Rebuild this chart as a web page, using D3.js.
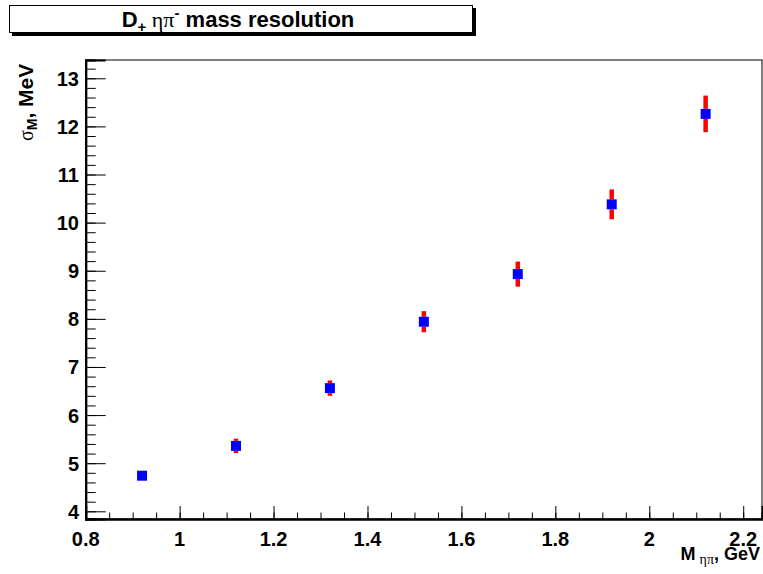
<!DOCTYPE html>
<html><head><meta charset="utf-8">
<script src="https://cdn.jsdelivr.net/npm/d3@7"></script>
<style>body{margin:0;background:#fff}svg{display:block}</style>
</head><body>
<script>
const massX = [0.92, 1.12, 1.32, 1.52, 1.72, 1.92, 2.12];
const sigmaY = [4.74, 5.36, 6.56, 7.94, 8.93, 10.38, 12.26];
const sigmaErr = [0.05, 0.15, 0.16, 0.22, 0.26, 0.31, 0.38];
const xTicks = [0.8, 1, 1.2, 1.4, 1.6, 1.8, 2, 2.2];
const yTicks = [4, 5, 6, 7, 8, 9, 10, 11, 12, 13];

const W = 763, H = 574;
const m = {l: 85.7, r: 762, t: 60, b: 519};
const svg = d3.select("body").append("svg").attr("width", W).attr("height", H);
svg.append("rect").attr("width", W).attr("height", H).attr("fill", "#fff");

const x = d3.scaleLinear().domain([0.8, 2.24]).range([m.l, m.r]);
const y = d3.scaleLinear().domain([3.84, 13.38]).range([m.b, m.t]);

const font = "'Liberation Sans', Arial, Helvetica, sans-serif";
const serif = "'Liberation Serif', 'Times New Roman', serif";

// frame
svg.append("rect").attr("x", m.l).attr("y", m.t).attr("width", m.r - m.l).attr("height", m.b - m.t)
  .attr("fill", "none").attr("stroke", "#000").attr("stroke-width", 1);

// X axis
const xMinor = d3.range(0.8, 2.2401, 0.05).map(v => +v.toFixed(2));
const gxm = svg.append("g").attr("transform", `translate(0,${m.b})`)
  .call(d3.axisTop(x).tickValues(xMinor).tickSize(6.5).tickFormat(""));
const gx = svg.append("g").attr("transform", `translate(0,${m.b})`)
  .call(d3.axisTop(x).tickValues(xTicks).tickSize(13).tickFormat(""));
[gxm, gx].forEach(g => { g.select(".domain").attr("stroke-width", 2); g.selectAll(".tick line").attr("stroke", "#000").attr("stroke-width", 1); });
svg.append("g").selectAll("text").data(xTicks).join("text")
  .attr("x", d => x(d)).attr("y", 546).attr("text-anchor", "middle")
  .attr("font-family", font).attr("font-weight", "bold").attr("font-size", 20)
  .text(d => d3.format("")(d));

// Y axis
const yMinor = d3.range(4, 13.381, 0.2).map(v => +v.toFixed(1));
const gym = svg.append("g").attr("transform", `translate(${m.l},0)`)
  .call(d3.axisRight(y).tickValues(yMinor).tickSize(10).tickFormat(""));
const gy = svg.append("g").attr("transform", `translate(${m.l},0)`)
  .call(d3.axisRight(y).tickValues(yTicks).tickSize(20).tickFormat(""));
[gym, gy].forEach(g => { g.select(".domain").attr("stroke-width", 2); g.selectAll(".tick line").attr("stroke", "#000").attr("stroke-width", 1); });
svg.append("g").selectAll("text").data(yTicks).join("text")
  .attr("x", 79).attr("y", d => y(d) + 7.5).attr("text-anchor", "end")
  .attr("font-family", font).attr("font-weight", "bold").attr("font-size", 20)
  .text(d => d);

// error bars
const pts = massX.map((v, i) => ({x: v, y: sigmaY[i], e: sigmaErr[i]}));
const half = 5;
const eb = svg.append("g").attr("stroke", "#ff0000").attr("stroke-width", 4.5);
pts.forEach(p => {
  const cy = y(p.y), top = y(p.y + p.e), bot = y(p.y - p.e);
  if (cy - top > half) eb.append("line").attr("x1", x(p.x)).attr("x2", x(p.x)).attr("y1", top).attr("y2", cy - half);
  if (bot - cy > half) eb.append("line").attr("x1", x(p.x)).attr("x2", x(p.x)).attr("y1", cy + half).attr("y2", bot);
});
// markers
svg.append("g").selectAll("rect").data(pts).join("rect")
  .attr("x", d => x(d.x) - half).attr("y", d => y(d.y) - half)
  .attr("width", 2 * half).attr("height", 2 * half).attr("fill", "#0000ff");

// title box
svg.append("rect").attr("x", 12).attr("y", 8).attr("width", 464).attr("height", 28).attr("fill", "#000");
svg.append("rect").attr("x", 9.5).attr("y", 5.5).attr("width", 463).attr("height", 27).attr("fill", "#fff").attr("stroke", "#000").attr("stroke-width", 1);
const t = svg.append("text").attr("x", 238).attr("y", 26.5).attr("text-anchor", "middle")
  .attr("font-family", font).attr("font-weight", "bold").attr("font-size", 22);
t.append("tspan").text("D");
t.append("tspan").attr("font-size", 15).attr("dy", 5).text("+");
t.append("tspan").attr("dy", -5).attr("font-family", serif).attr("font-weight", "normal").text(" ηπ");
t.append("tspan").attr("font-size", 15).attr("dy", -9).text("-");
t.append("tspan").attr("dy", 9).text(" mass resolution");

// y title
const yt = svg.append("text").attr("transform", "translate(33,141) rotate(-90)")
  .attr("text-anchor", "start").attr("font-family", font).attr("font-weight", "bold").attr("font-size", 21);
yt.append("tspan").attr("font-family", serif).attr("font-weight", "normal").attr("font-size", 20).text("σ");
yt.append("tspan").attr("font-size", 14).attr("dy", 4).text("M");
yt.append("tspan").attr("dy", -4).text(", MeV");

// x title
const xt = svg.append("text").attr("x", 760).attr("y", 559.5).attr("text-anchor", "end")
  .attr("font-family", font).attr("font-weight", "bold").attr("font-size", 18);
xt.append("tspan").text("M");
xt.append("tspan").attr("font-size", 14).attr("dx", 4).attr("dy", 4).attr("font-family", serif).attr("font-weight", "normal").text("ηπ");
xt.append("tspan").attr("dy", -4).text(", GeV");
</script>
</body></html>
